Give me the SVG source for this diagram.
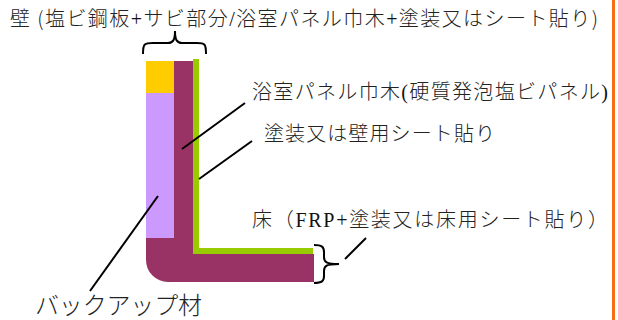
<svg xmlns="http://www.w3.org/2000/svg" width="618" height="320" viewBox="0 0 618 320">
<style>
text{font-family:"Noto Sans CJK JP","Liberation Serif",sans-serif;font-size:20px;fill:#222;font-weight:300}
.l{font-family:"Liberation Serif",serif;fill:#111}
.c{fill:none;stroke:#000;stroke-width:2}
</style>
<rect width="618" height="320" fill="#fff"/>
<rect x="612" y="0" width="3" height="320" fill="#f76f12"/>
<g id="wall">
<rect x="146" y="61" width="28" height="32" fill="#ffcc00"/>
<rect x="146" y="93" width="28" height="146" fill="#cc99ff"/>
<path d="M174 61H193V254H314V282H168A22 22 0 0 1 146 260V238H174Z" fill="#993366"/>
<path d="M193 59H199V248H313V254H193Z" fill="#99cc00"/>
</g>
<g id="connectors">
<path class="c" d="M143 54C143 44 144 43 153 43H168C173 43 175 40 175 31C175 40 177 43 182 43H197C205 43 206 44 206 54"/>
<path class="c" d="M314 245C322 245 324 247 324 252V257C324 262 326 264 339 264C326 264 324 266 324 271V276C324 281 322 283 314 283"/>
<path class="c" d="M245 103L182 149"/>
<path class="c" d="M252 141L199 179"/>
<path class="c" d="M366 238L345 259"/>
<path class="c" d="M158 196L90 291"/>
</g>
<g id="label-wall"><text x="10" y="26" textLength="588" lengthAdjust="spacing">壁 (塩ビ鋼板<tspan class="l">+</tspan>サビ部分<tspan class="l">/</tspan>浴室パネル巾木<tspan class="l">+</tspan>塗装又はシート貼り)</text></g>
<g id="label-panel"><text x="252" y="99" textLength="356" lengthAdjust="spacing">浴室パネル巾木<tspan class="l">(</tspan>硬質発泡塩ビパネル<tspan class="l">)</tspan></text></g>
<g id="label-paint"><text x="264" y="141" textLength="231" lengthAdjust="spacing">塗装又は壁用シート貼り</text></g>
<g id="label-floor"><text x="252" y="227" textLength="356" lengthAdjust="spacing">床（<tspan class="l">FRP+</tspan>塗装又は床用シート貼り）</text></g>
<g id="label-backup"><text x="35" y="314" style="font-size:24px" textLength="167" lengthAdjust="spacing">バックアップ材</text></g>
</svg>
